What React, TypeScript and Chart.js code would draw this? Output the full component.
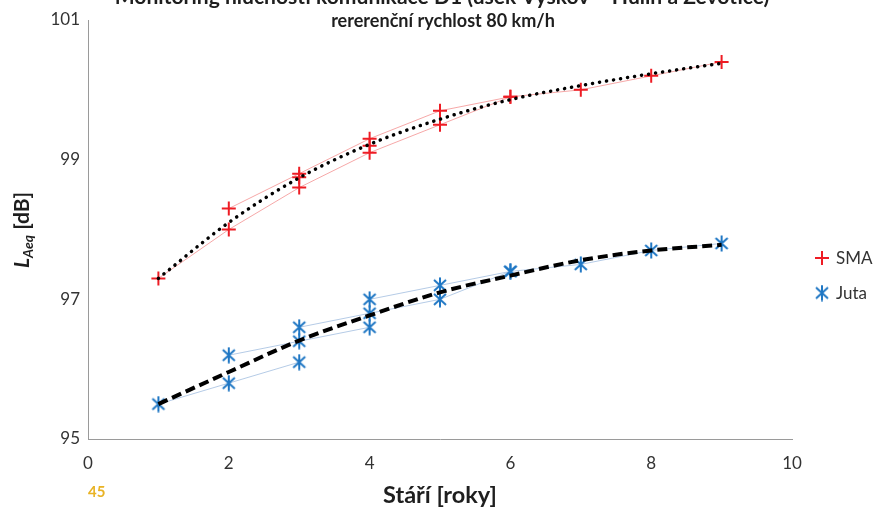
import React, { useEffect, useRef } from "react";
import { Chart, registerables } from "chart.js";

Chart.register(...registerables);

// ---- data ----
const smaAX = [1, 2, 3, 4, 5, 6];
const smaAY = [97.3, 98.0, 98.6, 99.1, 99.5, 99.9];
const smaBX = [2, 3, 4, 5, 6, 7, 8, 9];
const smaBY = [98.3, 98.8, 99.3, 99.7, 99.9, 100.0, 100.2, 100.4];
const smaCX = [3, 4];
const smaCY = [98.75, 99.2];

const jutaAX = [1, 2, 3];
const jutaAY = [95.5, 95.8, 96.1];
const jutaBX = [2, 3, 4];
const jutaBY = [96.2, 96.4, 96.6];
const jutaCX = [3, 4, 5, 6];
const jutaCY = [96.6, 96.8, 97.0, 97.4];
const jutaDX = [4, 5, 6, 7, 8, 9];
const jutaDY = [97.0, 97.2, 97.4, 97.5, 97.7, 97.8];

const trendX = [1, 2, 3, 4, 5, 6, 7, 8, 9];
const smaTrendY = [97.3, 98.1, 98.74, 99.22, 99.58, 99.86, 100.06, 100.23, 100.38];
const jutaTrendY = [95.5, 95.96, 96.41, 96.77, 97.1, 97.34, 97.56, 97.7, 97.78];

const titleText = "Monitoring hlučnosti komunikace D1 (úsek Vyškov – Hulín a Ževotice)";
const subtitleText = "rererenční rychlost 80 km/h";
const xTitle = "Stáří [roky]";
const legendLabels = ["SMA", "Juta"];
const pageNo = "45";

const RED = "#ee1c24";
const BLUE = "#1f77c4";
const FONT = "Lato, 'Open Sans', sans-serif";

const pts = (xs: number[], ys: number[]) => xs.map((x, i) => ({ x, y: ys[i] }));

function makeStar(color: string): HTMLCanvasElement {
  const c = document.createElement("canvas");
  c.width = 16;
  c.height = 17;
  const g = c.getContext("2d")!;
  g.strokeStyle = color;
  g.lineWidth = 2;
  g.beginPath();
  g.moveTo(2, 3);
  g.lineTo(14, 14);
  g.moveTo(14, 3);
  g.lineTo(2, 14);
  g.moveTo(8, 0.5);
  g.lineTo(8, 16.5);
  g.stroke();
  return c;
}

function fitFont(ctx: CanvasRenderingContext2D, text: string, style: string, target: number) {
  ctx.font = `${style} 20px ${FONT}`;
  const w = ctx.measureText(text).width;
  const fs = (20 * target) / w;
  ctx.font = `${style} ${fs}px ${FONT}`;
  return fs;
}

export default function App() {
  const ref = useRef<HTMLCanvasElement>(null);

  useEffect(() => {
    document.body.style.margin = "0";
    const star = makeStar(BLUE);

    const textPlugin = {
      id: "texts",
      afterDraw(chart: any) {
        const ctx = chart.ctx as CanvasRenderingContext2D;
        ctx.save();
        // title (cut off at top)
        ctx.fillStyle = "#1e1e1e";
        ctx.textAlign = "center";
        ctx.textBaseline = "alphabetic";
        fitFont(ctx, titleText, "bold", 655);
        ctx.fillText(titleText, 442, 4);
        // subtitle
        fitFont(ctx, subtitleText, "bold", 224);
        ctx.fillText(subtitleText, 443, 27);
        // x title
        ctx.textBaseline = "middle";
        fitFont(ctx, xTitle, "bold", 114);
        ctx.fillText(xTitle, 440, 495);
        // page number
        ctx.textAlign = "left";
        ctx.fillStyle = "#e9b325";
        ctx.font = `bold 15px ${FONT}`;
        ctx.fillText(pageNo, 88, 492);
        // y title with subscript
        ctx.save();
        ctx.translate(22, 230);
        ctx.rotate(-Math.PI / 2);
        ctx.fillStyle = "#1e1e1e";
        ctx.textBaseline = "alphabetic";
        const f1 = `italic bold 21px ${FONT}`;
        const f2 = `italic bold 14px ${FONT}`;
        const f3 = `bold 21px ${FONT}`;
        ctx.font = f1;
        const wL = ctx.measureText("L").width;
        ctx.font = f2;
        const wS = ctx.measureText("Aeq").width;
        ctx.font = f3;
        const wR = ctx.measureText(" [dB]").width;
        let x0 = -(wL + wS + wR) / 2;
        const base = 7;
        ctx.font = f1;
        ctx.fillText("L", x0, base);
        x0 += wL;
        ctx.font = f2;
        ctx.fillText("Aeq", x0, base + 4);
        x0 += wS;
        ctx.font = f3;
        ctx.fillText(" [dB]", x0, base);
        ctx.restore();
        // legend
        const ly = [258, 293];
        ctx.textBaseline = "middle";
        ctx.textAlign = "left";
        ctx.font = `17px ${FONT}`;
        ctx.fillStyle = "#333";
        ctx.strokeStyle = RED;
        ctx.lineWidth = 2;
        ctx.beginPath();
        ctx.moveTo(815, ly[0]);
        ctx.lineTo(829, ly[0]);
        ctx.moveTo(822, ly[0] - 7);
        ctx.lineTo(822, ly[0] + 7);
        ctx.stroke();
        ctx.fillText(legendLabels[0], 836, ly[0] + 1);
        ctx.drawImage(star, 814, ly[1] - 8.5);
        ctx.fillText(legendLabels[1], 836, ly[1] + 1);
        ctx.restore();
      },
    };

    const thin = (data: any[], color: string, line: boolean, marker: any, radius: number) => ({
      data,
      showLine: line,
      borderColor: color,
      borderWidth: 1,
      pointStyle: marker,
      pointRadius: radius,
      pointHoverRadius: radius,
      pointBorderWidth: 2,
      order: 2,
    });

    const smaLine = "rgba(240,110,110,0.6)";
    const jutaLine = "rgba(120,160,210,0.55)";

    const chart = new Chart(ref.current!, {
      type: "scatter",
      data: {
        datasets: [
          {
            data: pts(trendX, smaTrendY),
            showLine: true,
            borderColor: "#000",
            borderWidth: 3.5,
            borderDash: [0.1, 7],
            borderCapStyle: "round",
            cubicInterpolationMode: "monotone",
            pointRadius: 0,
            order: 0,
          } as any,
          {
            data: pts(trendX, jutaTrendY),
            showLine: true,
            borderColor: "#000",
            borderWidth: 4,
            borderDash: [10, 5],
            borderCapStyle: "butt",
            cubicInterpolationMode: "monotone",
            pointRadius: 0,
            order: 0,
          } as any,
          { ...thin(pts(smaAX, smaAY), smaLine, true, "cross", 7), pointBorderColor: RED } as any,
          { ...thin(pts(smaBX, smaBY), smaLine, true, "cross", 7), pointBorderColor: RED } as any,
          { ...thin(pts(smaCX, smaCY), smaLine, false, "cross", 7), pointBorderColor: RED } as any,
          { ...thin(pts(jutaAX, jutaAY), jutaLine, true, star, 8) } as any,
          { ...thin(pts(jutaBX, jutaBY), jutaLine, true, star, 8) } as any,
          { ...thin(pts(jutaCX, jutaCY), jutaLine, true, star, 8) } as any,
          { ...thin(pts(jutaDX, jutaDY), jutaLine, true, star, 8) } as any,
        ],
      },
      options: {
        animation: false,
        responsive: false,
        layout: { padding: { left: 0, right: 89, top: 20, bottom: 0 } },
        plugins: { legend: { display: false }, tooltip: { enabled: false } },
        scales: {
          x: {
            type: "linear",
            min: 0,
            max: 10,
            ticks: { stepSize: 2, padding: 14, color: "#333", font: { family: FONT, size: 17 } },
            grid: { display: false, drawTicks: false },
            border: { display: true, color: "#9a9a9a", width: 1 },
            afterFit: (s: any) => {
              s.height = 71;
            },
          },
          y: {
            type: "linear",
            min: 95,
            max: 101,
            ticks: { stepSize: 2, padding: 8, color: "#333", font: { family: FONT, size: 17 } },
            grid: { display: false, drawTicks: false },
            border: { display: true, color: "#9a9a9a", width: 1 },
            afterFit: (s: any) => {
              s.width = 88;
            },
          },
        },
      } as any,
      plugins: [textPlugin],
    });
    return () => chart.destroy();
  }, []);

  return (
    <div style={{ position: "absolute", left: 0, top: 0, width: 881, height: 510, background: "#fff" }}>
      <canvas ref={ref} width={881} height={510} style={{ display: "block" }} />
    </div>
  );
}
